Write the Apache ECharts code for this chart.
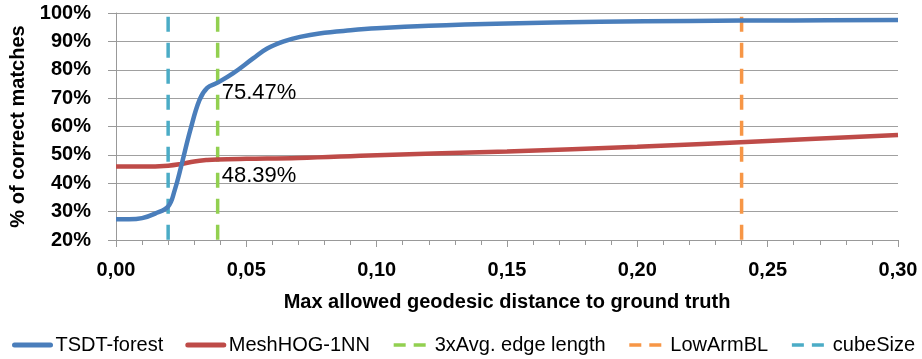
<!DOCTYPE html>
<html>
<head>
<meta charset="utf-8">
<script src="https://cdn.jsdelivr.net/npm/echarts@6/dist/echarts.min.js"></script>
<style>
html,body{margin:0;padding:0;background:#fff;}
#chart{width:922px;height:359px;}
</style>
</head>
<body>
<div id="chart"></div>
<script>
// Data
const tsdtX = [0, 0.005, 0.01, 0.015, 0.02, 0.0225, 0.025, 0.0285, 0.032, 0.035, 0.039, 0.045, 0.0526, 0.058, 0.065, 0.0706, 0.078, 0.09, 0.1, 0.12, 0.15, 0.1856, 0.22, 0.26, 0.3];
const tsdtY = [27.3, 27.3, 27.7, 29.3, 31.8, 37.5, 46, 58.7, 69.3, 73.6, 75.47, 78.8, 84, 87.5, 90.2, 91.6, 92.8, 93.9, 94.6, 95.5, 96.3, 96.9, 97.2, 97.4, 97.5];
const meshX = [0, 0.01, 0.02, 0.025, 0.03, 0.035, 0.039, 0.05, 0.07, 0.1, 0.15, 0.2, 0.25, 0.3];
const meshY = [45.9, 45.9, 46.2, 46.8, 47.7, 48.2, 48.39, 48.6, 48.9, 49.9, 51.2, 52.9, 54.9, 57.0];
const edgeLengthX = 0.039;
const lowArmX = 0.24;
const cubeSizeX = 0.02;
const vLineRange = [98.7, 20];
const labelX = 0.039;
const seriesNames = ['TSDT-forest', 'MeshHOG-1NN', '3xAvg. edge length', 'LowArmBL', 'cubeSize'];

const FONT = "'Liberation Sans', Arial, sans-serif";

function pairs(xs, ys) { return xs.map((x, i) => [x, ys[i]]); }
function vline(x) { return vLineRange.map(y => [x, y]); }

function labelPoint(xs, ys, offsetY) {
  const i = xs.indexOf(labelX);
  return {
    symbol: 'circle', symbolSize: 0, silent: true,
    label: {
      show: true, position: 'right', distance: 4, offset: [0, offsetY],
      fontFamily: FONT, fontSize: 22, color: '#000',
      formatter: ys[i].toFixed(2) + '%'
    },
    data: [{ coord: [xs[i], ys[i]], value: ys[i] }]
  };
}

const chart = echarts.init(document.getElementById('chart'), null, { renderer: 'canvas' });
chart.setOption({
  animation: false,
  backgroundColor: '#fff',
  grid: { left: 116, right: 24, top: 13, bottom: 119, containLabel: false },
  legend: {
    left: 12,
    top: 335,
    width: 910,
    padding: 0,
    itemWidth: 36,
    itemHeight: 14,
    itemGap: 22,
    itemStyle: { color: 'rgba(0,0,0,0)', borderWidth: 0, opacity: 0 },
    textStyle: { fontFamily: FONT, fontSize: 20, color: '#000' },
    data: [
      { name: seriesNames[0], lineStyle: { width: 5, cap: 'round' } },
      { name: seriesNames[1], lineStyle: { width: 5, cap: 'round' } },
      { name: seriesNames[2], lineStyle: { width: 3.5, type: [12, 8] } },
      { name: seriesNames[3], lineStyle: { width: 3.5, type: [12, 8] } },
      { name: seriesNames[4], lineStyle: { width: 3.5, type: [12, 8] } }
    ]
  },
  xAxis: {
    type: 'value',
    min: 0,
    max: 0.3,
    interval: 0.05,
    name: 'Max allowed geodesic distance to ground truth',
    nameLocation: 'middle',
    nameGap: 52,
    nameTextStyle: { fontFamily: FONT, fontSize: 20, fontWeight: 'bold', color: '#000' },
    axisLine: { show: true, lineStyle: { color: '#999', width: 1 } },
    axisTick: { show: true, length: 7, lineStyle: { color: '#999' } },
    minorTick: { show: true, splitNumber: 5, length: 5, lineStyle: { color: '#999' } },
    splitLine: { show: false },
    axisLabel: {
      margin: 20,
      fontFamily: FONT, fontSize: 20, fontWeight: 'bold', color: '#000',
      formatter: v => v.toFixed(2).replace('.', ',')
    }
  },
  yAxis: {
    type: 'value',
    min: 20,
    max: 100,
    interval: 10,
    name: '% of correct matches',
    nameLocation: 'middle',
    nameGap: 86,
    nameTextStyle: { fontFamily: FONT, fontSize: 20, fontWeight: 'bold', color: '#000' },
    axisLine: { show: true, lineStyle: { color: '#999', width: 1 } },
    axisTick: { show: true, length: 8, lineStyle: { color: '#999' } },
    splitLine: { show: true, lineStyle: { color: '#a0a0a0', width: 1 } },
    axisLabel: {
      margin: 25,
      fontFamily: FONT, fontSize: 20, fontWeight: 'bold', color: '#000',
      formatter: '{value}%'
    }
  },
  series: [
    {
      name: seriesNames[0], type: 'line', smooth: 0.4, symbol: 'none', z: 4,
      lineStyle: { color: '#4a7ebb', width: 4.5 }, itemStyle: { color: '#4a7ebb' },
      data: pairs(tsdtX, tsdtY),
      markPoint: labelPoint(tsdtX, tsdtY, 10)
    },
    {
      name: seriesNames[1], type: 'line', smooth: 0.4, symbol: 'none', z: 3,
      lineStyle: { color: '#be4b48', width: 4.5 }, itemStyle: { color: '#be4b48' },
      data: pairs(meshX, meshY),
      markPoint: labelPoint(meshX, meshY, 16)
    },
    {
      name: seriesNames[2], type: 'line', symbol: 'none', z: 2,
      lineStyle: { color: '#92d050', width: 3.5, type: [15, 11] }, itemStyle: { color: '#92d050' },
      data: vline(edgeLengthX)
    },
    {
      name: seriesNames[3], type: 'line', symbol: 'none', z: 2,
      lineStyle: { color: '#f79646', width: 3.5, type: [15, 11] }, itemStyle: { color: '#f79646' },
      data: vline(lowArmX)
    },
    {
      name: seriesNames[4], type: 'line', symbol: 'none', z: 2,
      lineStyle: { color: '#4bacc6', width: 3.5, type: [15, 11] }, itemStyle: { color: '#4bacc6' },
      data: vline(cubeSizeX)
    }
  ]
});
</script>
</body>
</html>
